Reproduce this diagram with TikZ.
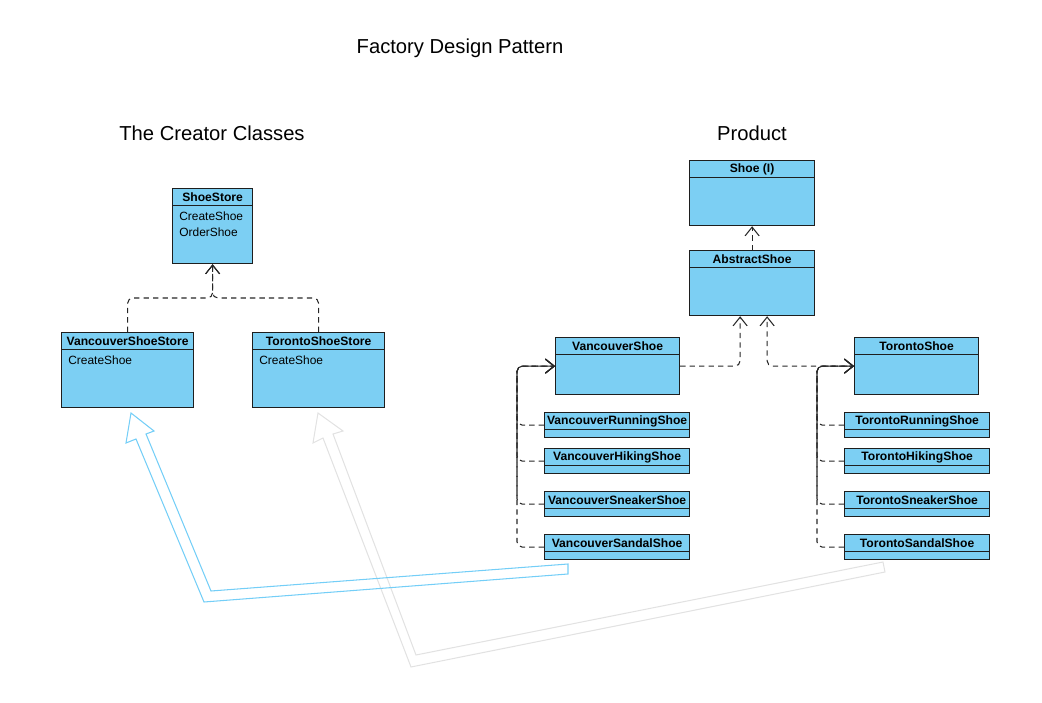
\documentclass[tikz,border=0pt]{standalone}
\usepackage{fontspec}
\setmainfont{Liberation Sans}
\usepackage{tikz}
\usetikzlibrary{
    arrows.meta,
    positioning,
    calc
}
\definecolor{classfill}{RGB}{124,207,243}
\definecolor{classline}{RGB}{30,30,30}
\definecolor{bluearrow}{RGB}{116,206,247}
\definecolor{grayarrow}{RGB}{226,226,226}

% one UML class box: name, x, y, width, height, title, body
\newcommand{\umlclass}[7]{%
    \node[classbox, anchor=north west, minimum width=#4*0.02cm,
        minimum height=#5*0.02cm] (#1) at (#2,#3) {};
    \node[classhead, anchor=north, minimum width=#4*0.02cm]
        (#1-head) at (#1.north) {#6};
    \node[classbody, anchor=north west] at (#1-head.south west) {#7};
}

\begin{document}
\begin{tikzpicture}[
        x=0.02cm, y=-0.02cm,
        title/.style={
            font=\fontsize{11.5}{14}\selectfont
        },
        classbox/.style={
            draw=classline,
            fill=classfill,
            line width=0.7pt,
            inner sep=0pt
        },
        classhead/.style={
            draw=classline,
            line width=0.7pt,
            minimum height=0.34cm,
            inner sep=0pt,
            font=\fontsize{6.9}{8}\selectfont\bfseries
        },
        classbody/.style={
            align=left,
            inner xsep=0.14cm,
            inner ysep=0.1cm,
            font=\fontsize{6.8}{9.1}\selectfont
        },
        dep/.style={
            dashed,
            dash pattern=on 3pt off 2.4pt,
            draw=black!85,
            line width=0.6pt,
            rounded corners=3pt,
            -{Straight Barb[length=5pt,width=8pt]}
        },
        bigarrow/.style={
            line width=0.6pt,
            line join=miter
        }
    ]

    \useasboundingbox (0,0) rectangle (1042,703);

    \node[title] (heading) at (460,48) {Factory Design Pattern};
    \node[title] (creators) at (212,133) {The Creator Classes};
    \node[title] (product) at (752,133) {Product};

    % creator classes
    \umlclass{store}{172}{188}{80}{75}{ShoeStore}{CreateShoe\\OrderShoe}
    \umlclass{vstore}{61}{332}{132}{75}{VancouverShoeStore}{CreateShoe}
    \umlclass{tstore}{252}{332}{132}{75}{TorontoShoeStore}{CreateShoe}

    \draw[dep] (vstore.north) -- ++(0,-34) -| (store.south);
    \draw[dep] (tstore.north) -- ++(0,-34) -| (store.south);

    % product classes
    \umlclass{shoe}{689}{160}{125}{65}{Shoe (I)}{}
    \umlclass{abstract}{689}{250}{125}{65}{AbstractShoe}{}
    \umlclass{vshoe}{555}{337}{124}{57}{VancouverShoe}{}
    \umlclass{tshoe}{854}{337}{124}{57}{TorontoShoe}{}

    \draw[dep] (abstract.north) -- (shoe.south);
    \draw[dep] (vshoe.east) -| ($(abstract.south)+(-12,0)$);
    \draw[dep] (tshoe.west) -| ($(abstract.south)+(15,0)$);

    \foreach \kind/\ypos in {Running/412, Hiking/448, Sneaker/491, Sandal/534} {
        \umlclass{v\kind}{544}{\ypos}{145}{25}{Vancouver\kind Shoe}{}
        \umlclass{t\kind}{844}{\ypos}{145}{25}{Toronto\kind Shoe}{}
        \draw[dep] (v\kind.west) -- ++(-27,0) |- (vshoe.west);
        \draw[dep] (t\kind.west) -- ++(-27,0) |- (tshoe.west);
    }

    % hollow arrows back to the creators
    \draw[bigarrow, draw=grayarrow]
        (318,413) -- (343,431) -- (333,434) -- (416,655) -- (883,562)
        -- (885,572) -- (411,667) -- (323,438) -- (313,443) -- cycle;
    \draw[bigarrow, draw=bluearrow]
        (131,413) -- (154,431) -- (146,434) -- (211,591) -- (568,564)
        -- (568,574) -- (204,602) -- (136,439) -- (126,443) -- cycle;

\end{tikzpicture}
\end{document}
